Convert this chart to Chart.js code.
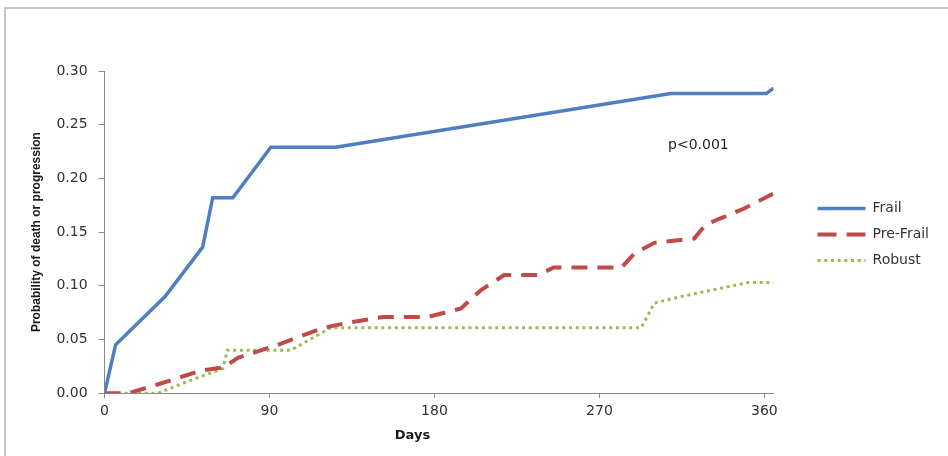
<!DOCTYPE html>
<html>
<head>
<meta charset="utf-8">
<script src="https://cdn.jsdelivr.net/npm/chart.js@4/dist/chart.umd.min.js"></script>
<style>
  body { margin: 0; background: #fff; }
  #wrap { position: relative; width: 948px; height: 456px; overflow: hidden; }
  #frame { position: absolute; left: 4px; top: 7px; right: -10px; bottom: -10px;
           border-top: 2px solid #c6c6c6; border-left: 2px solid #c6c6c6; }
  canvas { position: absolute; left: 0; top: 0; }
</style>
</head>
<body>
<div id="wrap">
  <div id="frame"></div>
  <canvas id="chart" width="948" height="456"></canvas>
</div>
<script>
// days and cumulative probability
const frailDays = [0, 6, 33, 53.5, 59, 70, 90.7, 126, 309, 361, 365];
const frailVals = [0, 0.045, 0.090, 0.136, 0.182, 0.182, 0.229, 0.229, 0.279, 0.279, 0.284];

const preDays = [0, 13, 30.6, 52.4, 65, 72.7, 94.5, 119.6, 134, 152, 176.4, 194.5, 205.4, 218, 236.5, 245, 282, 289, 300, 321.7, 328, 335, 349, 365];
const preVals = [0, 0, 0.009, 0.021, 0.024, 0.033, 0.045, 0.061, 0.066, 0.071, 0.071, 0.079, 0.096, 0.110, 0.110, 0.117, 0.117, 0.130, 0.140, 0.144, 0.157, 0.162, 0.172, 0.186];

const robDays = [0, 29, 47, 64.5, 67, 101.6, 123.5, 292.8, 300, 314.6, 351, 365];
const robVals = [0, 0, 0.012, 0.023, 0.040, 0.040, 0.061, 0.061, 0.084, 0.090, 0.103, 0.103];

const xTicks = [0, 90, 180, 270, 360];
const pValue = 'p<0.001';
const xTitle = 'Days';

function pts(days, vals) {
    return days.map((d, i) => ({ x: d, y: vals[i] }));
}

const axisColor = '#898989';
const textColor = '#333333';

// p-value note and the x title (the title sits left of centre in the original)
const notes = {
    id: 'notes',
    afterDatasetsDraw(chart) {
        const { ctx, scales, chartArea } = chart;
        ctx.save();
        ctx.textAlign = 'center';
        ctx.textBaseline = 'middle';
        ctx.font = '14px "DejaVu Sans"';
        ctx.fillStyle = '#262626';
        ctx.fillText(pValue, scales.x.getPixelForValue(324), scales.y.getPixelForValue(0.231));
        ctx.font = 'bold 13px "DejaVu Sans"';
        ctx.fillStyle = '#1a1a1a';
        ctx.fillText(xTitle, scales.x.getPixelForValue(168), chartArea.bottom + 42);
        ctx.restore();
    }
};

new Chart(document.getElementById('chart'), {
    type: 'scatter',
    data: {
        datasets: [{
            label: 'Frail',
            data: pts(frailDays, frailVals),
            showLine: true,
            borderColor: '#4f7fbf',
            borderWidth: 3.5,
            pointRadius: 0,
            tension: 0
        }, {
            label: 'Pre-Frail',
            data: pts(preDays, preVals),
            showLine: true,
            borderColor: '#bf4b48',
            borderWidth: 4,
            borderDash: [16, 10],
            pointRadius: 0,
            tension: 0
        }, {
            label: 'Robust',
            data: pts(robDays, robVals),
            showLine: true,
            borderColor: '#9bbb59',
            borderWidth: 3,
            borderDash: [3, 3.7],
            pointRadius: 0,
            tension: 0
        }]
    },
    options: {
        responsive: false,
        animation: false,
        layout: { padding: { left: 23, right: 9, top: 71, bottom: 31 } },
        plugins: {
            tooltip: { enabled: false },
            legend: {
                position: 'right',
                fullSize: false,
                title: { display: true, text: ' ', padding: 0, font: { size: 4 } },
                labels: {
                    usePointStyle: true,
                    pointStyle: 'line',
                    pointStyleWidth: 48,
                    padding: 12,
                    color: textColor,
                    font: { family: 'DejaVu Sans', size: 14 },
                    generateLabels: chart => {
                        const items = Chart.defaults.plugins.legend.labels.generateLabels(chart);
                        return items.map(it => {
                            const ds = chart.data.datasets[it.datasetIndex];
                            // the legend sample shows two long dashes for Pre-Frail
                            it.lineDash = ds.borderDash ? (ds.borderDash[0] > 10 ? [19, 10] : ds.borderDash) : [];
                            it.lineWidth = ds.borderWidth;
                            it.strokeStyle = ds.borderColor;
                            it.lineCap = 'butt';
                            return it;
                        });
                    }
                }
            }
        },
        scales: {
            x: {
                type: 'linear',
                min: 0,
                max: 365,
                afterBuildTicks: s => { s.ticks = xTicks.map(v => ({ value: v })); },
                ticks: {
                    color: textColor,
                    padding: 5,
                    maxRotation: 0,
                    font: { family: 'DejaVu Sans', size: 14 }
                },
                grid: { drawOnChartArea: false, tickLength: 5, color: axisColor },
                border: { color: axisColor }
            },
            y: {
                min: 0,
                max: 0.30,
                ticks: {
                    stepSize: 0.05,
                    color: textColor,
                    padding: 11,
                    font: { family: 'DejaVu Sans', size: 14 },
                    callback: v => v.toFixed(2)
                },
                grid: { drawOnChartArea: false, tickLength: 6, color: axisColor },
                border: { color: axisColor },
                title: {
                    display: true,
                    text: 'Probability of death or progression',
                    color: '#1a1a1a',
                    padding: { top: 6, bottom: 2 },
                    font: { family: 'Liberation Sans', size: 12, weight: 'bold' }
                }
            },
            gap: {
                type: 'linear',
                position: 'right',
                grid: { display: false },
                ticks: { display: false },
                border: { display: false },
                afterFit: s => { s.width = 32; }
            }
        }
    },
    plugins: [notes]
});
</script>
</body>
</html>
